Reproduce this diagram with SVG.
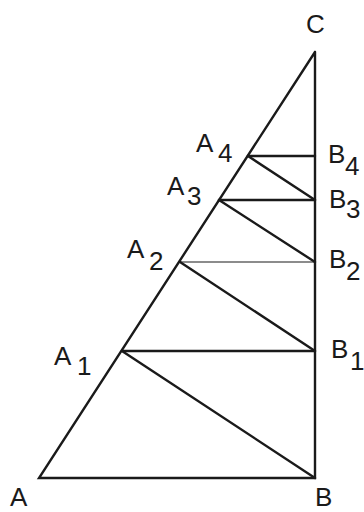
<svg xmlns="http://www.w3.org/2000/svg" width="364" height="512" viewBox="0 0 364 512">
<style>
.l{stroke:#1a1a1a;stroke-width:2.4;fill:none;stroke-linecap:round}
.t{stroke:#1a1a1a;stroke-width:1.2;fill:none}
.lb{font-family:"Liberation Sans",Arial,sans-serif;font-size:26px;fill:#1a1a1a}
</style>
<rect width="364" height="512" fill="#fff"/>
<g id="connectors">
<polyline class="l" points="315,52 39,478 315,478 315,52"/>
<line class="l" x1="248" y1="156" x2="315" y2="156"/>
<line class="l" x1="219" y1="200" x2="315" y2="200"/>
<line class="t" x1="180" y1="262" x2="315" y2="262"/>
<line class="l" x1="122" y1="351" x2="315" y2="351"/>
<line class="l" x1="122" y1="351" x2="315" y2="478"/>
<line class="l" x1="180" y1="262" x2="315" y2="351"/>
<line class="l" x1="219" y1="200" x2="315" y2="262"/>
<line class="l" x1="248" y1="156" x2="315" y2="200"/>
</g>
<g id="C"><text class="lb" x="306" y="33">C</text></g>
<g id="A"><text class="lb" x="10" y="506">A</text></g>
<g id="B"><text class="lb" x="315" y="506">B</text></g>
<g id="A1"><text class="lb" x="54" y="365">A<tspan x="77" y="375">1</tspan></text></g>
<g id="A2"><text class="lb" x="127" y="258">A<tspan x="149" y="270">2</tspan></text></g>
<g id="A3"><text class="lb" x="167" y="195">A<tspan x="187" y="205">3</tspan></text></g>
<g id="A4"><text class="lb" x="196" y="152">A<tspan x="218" y="162">4</tspan></text></g>
<g id="B1"><text class="lb" x="331" y="358">B<tspan x="350" y="370">1</tspan></text></g>
<g id="B2"><text class="lb" x="329" y="268">B<tspan x="346" y="280">2</tspan></text></g>
<g id="B3"><text class="lb" x="329" y="208">B<tspan x="346" y="218">3</tspan></text></g>
<g id="B4"><text class="lb" x="328" y="163">B<tspan x="345" y="175">4</tspan></text></g>
</svg>
